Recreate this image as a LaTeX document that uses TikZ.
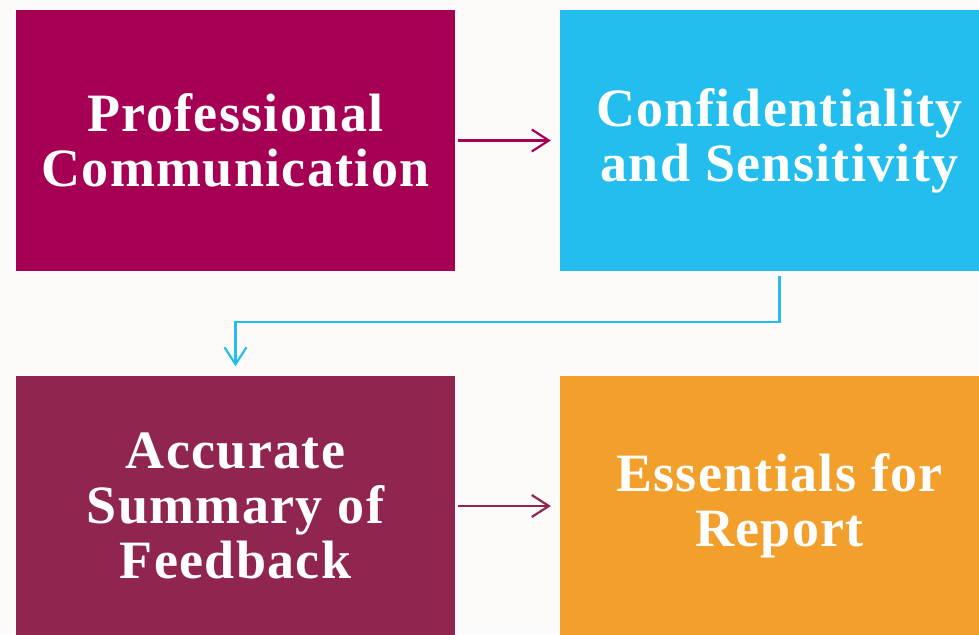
\documentclass[tikz,border=0pt]{standalone}
\usepackage{fontspec}
\setmainfont{Liberation Serif}
\newfontfamily\cardfont[LetterSpace=2.5]{Liberation Serif}
\usetikzlibrary{arrows.meta}

\definecolor{berry}{RGB}{165,0,84}
\definecolor{skyblue}{RGB}{36,190,238}
\definecolor{wine}{RGB}{144,38,80}
\definecolor{amber}{RGB}{242,159,43}
\definecolor{paper}{RGB}{252,251,250}

\tikzset{
    card/.style={rectangle, minimum width=439pt, minimum height=261pt, inner sep=0pt,
        text=white, align=center, font=\cardfont\bfseries\fontsize{54}{55}\selectfont},
    flow/.style={line width=2.2pt, -{Straight Barb[length=17pt,width=22pt,line width=2.2pt]}}
}

\begin{document}
\begin{tikzpicture}[x=1pt, y=-1pt]
    % Page and background
    \useasboundingbox (0,0) rectangle (979,634);
    \clip (0,0) rectangle (979,634);
    \fill[paper] (0,0) rectangle (979,634);

    % Boxes
    \node[card, fill=berry] (pc) at (235.5,140.5) {Professional\\Communication};
    \node[card, fill=skyblue] (cs) at (779.5,140.5) {Confidentiality\\and Sensitivity};
    \node[card, fill=wine] (asf) at (235.5,506) {Accurate\\Summary of\\Feedback};
    \node[card, fill=amber] (efr) at (779.5,506) {Essentials for\\Report};

    % Connectors
    \coordinate (turn) at (0,322);
    \draw[flow, berry, shorten <=3pt, shorten >=9pt] (pc) -- (cs);
    \draw[flow, skyblue, shorten <=5pt, shorten >=9pt] (cs.south) -- (cs.south |- turn) -| (asf.north);
    \draw[flow, wine, shorten <=3pt, shorten >=9pt] (asf) -- (efr);
\end{tikzpicture}
\end{document}
